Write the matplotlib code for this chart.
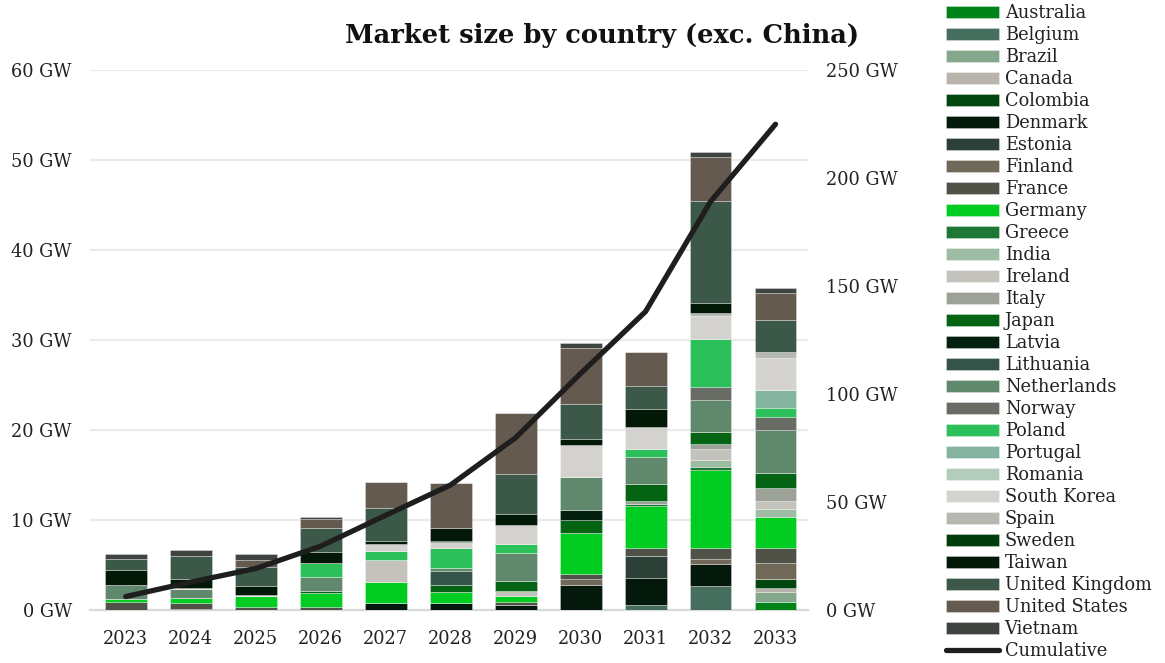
import numpy as np
import matplotlib
matplotlib.use("Agg")
import matplotlib.pyplot as plt
from matplotlib.lines import Line2D

years = ["2023", "2024", "2025", "2026", "2027", "2028", "2029", "2030", "2031", "2032", "2033"]

# GW per year, one list per country (stack order bottom -> top)
australia      = [0, 0, 0, 0, 0, 0, 0, 0, 0, 0, 0.85]
belgium        = [0, 0, 0, 0, 0, 0, 0, 0, 0.55, 2.67, 0]
brazil         = [0, 0, 0, 0, 0, 0, 0, 0, 0, 0, 1.11]
canada         = [0, 0, 0, 0, 0, 0, 0, 0, 0, 0, 0.48]
colombia       = [0, 0, 0, 0, 0, 0, 0, 0, 0, 0, 0.96]
denmark        = [0, 0.1, 0, 0, 0.8, 0.8, 0.6, 2.78, 3.04, 2.48, 0]
estonia        = [0, 0, 0, 0, 0, 0, 0, 0, 2.4, 0, 0]
finland        = [0, 0, 0, 0, 0, 0, 0, 0.67, 0, 0.48, 1.85]
france         = [0.92, 0.7, 0.37, 0.3, 0, 0, 0.3, 0.6, 0.93, 1.3, 1.67]
germany        = [0.26, 0.5, 1.15, 1.55, 2.3, 1.22, 0.63, 4.55, 4.6, 8.6, 3.44]
greece         = [0, 0, 0, 0, 0, 0, 0, 0, 0.22, 0.4, 0]
india          = [0, 0, 0, 0, 0, 0, 0, 0, 0, 0.74, 0.85]
ireland        = [0, 0, 0, 0, 2.45, 0, 0.63, 0, 0, 1.26, 0.89]
italy          = [0, 0, 0, 0, 0, 0, 0, 0, 0.37, 0.56, 1.41]
japan          = [0, 0.05, 0, 0.26, 0, 0.8, 1.07, 1.44, 1.93, 1.3, 1.7]
latvia         = [0, 0, 0, 0, 0, 0, 0, 1.07, 0, 0, 0]
lithuania      = [0, 0, 0, 0, 0, 1.5, 0, 0, 0, 0, 0]
netherlands    = [1.65, 1.0, 0, 1.6, 0, 0.37, 3.15, 3.7, 3.0, 3.52, 4.78]
norway         = [0, 0, 0, 0, 0, 0, 0, 0, 0, 1.52, 1.48]
poland         = [0, 0, 0, 1.55, 1.04, 2.2, 0.96, 0, 0.89, 5.33, 0.96]
portugal       = [0, 0, 0, 0, 0, 0, 0, 0, 0, 0, 2.0]
romania        = [0, 0, 0, 0, 0, 0, 0, 0, 0, 0, 0]
south_korea    = [0, 0.15, 0.2, 0, 0.78, 0.67, 2.15, 3.48, 2.44, 2.52, 3.6]
spain          = [0, 0, 0, 0, 0, 0, 0, 0, 0, 0.37, 0.59]
sweden         = [0, 0, 0, 0, 0, 0.15, 0, 0, 0, 0, 0]
taiwan         = [1.6, 1.0, 0.93, 1.2, 0.3, 1.4, 1.22, 0.74, 2.0, 1.11, 0]
united_kingdom = [1.2, 2.55, 2.15, 2.7, 3.7, 0, 4.37, 3.9, 2.52, 11.3, 3.63]
united_states  = [0, 0, 0.8, 1.0, 2.9, 4.95, 6.8, 6.15, 3.8, 4.9, 2.93]
vietnam        = [0.58, 0.67, 0.67, 0.2, 0, 0, 0, 0.63, 0, 0.55, 0.63]

countries = ["Australia", "Belgium", "Brazil", "Canada", "Colombia", "Denmark", "Estonia",
             "Finland", "France", "Germany", "Greece", "India", "Ireland", "Italy", "Japan",
             "Latvia", "Lithuania", "Netherlands", "Norway", "Poland", "Portugal", "Romania",
             "South Korea", "Spain", "Sweden", "Taiwan", "United Kingdom", "United States",
             "Vietnam"]
series = [australia, belgium, brazil, canada, colombia, denmark, estonia, finland, france,
          germany, greece, india, ireland, italy, japan, latvia, lithuania, netherlands,
          norway, poland, portugal, romania, south_korea, spain, sweden, taiwan,
          united_kingdom, united_states, vietnam]
colors = ["#00841A", "#466E5E", "#84A88C", "#B8B4AC", "#00460E", "#04180C", "#2C4038",
          "#706858", "#505248", "#00CC22", "#1C7834", "#9CBCA4", "#C4C2BC", "#9CA298",
          "#046414", "#04200E", "#34544A", "#60886C", "#686C64", "#2CC05A", "#84B4A0",
          "#B4CCBC", "#D4D2CE", "#B4B8B0", "#003C0C", "#041808", "#3C5848", "#645A50",
          "#404440"]

FONT = "DejaVu Serif"
plt.rcParams["font.family"] = FONT

W, H = 1165, 663
fig = plt.figure(figsize=(W / 100, H / 100), dpi=100)
ax = fig.add_axes([90 / W, 1 - 610 / H, (808 - 90) / W, (610 - 70) / H])

x = np.arange(len(years))
bottom = np.zeros(len(years))
handles = []
for name, vals, c in zip(countries, series, colors):
    v = np.array(vals, dtype=float)
    b = ax.bar(x, v, bottom=bottom, width=0.645, color=c, edgecolor=(1, 1, 1, 0.35),
               linewidth=0.6, label=name, zorder=3)
    handles.append(b)
    bottom = bottom + v

ax.set_xlim(-0.55, 10.5)
ax.set_ylim(0, 60)
ax.set_yticks(range(0, 61, 10))
ax.set_yticklabels([f"{t} GW" for t in range(0, 61, 10)])
ax.set_xticks(x)
ax.set_xticklabels(years)
ax.tick_params(axis="both", length=0, labelsize=12.8, colors="#222222")
ax.tick_params(axis="y", pad=13)
ax.tick_params(axis="x", pad=14.5)
ax.grid(axis="y", color="#EBEBEB", linewidth=1.6, zorder=0)
for s in ["top", "right", "left"]:
    ax.spines[s].set_visible(False)
ax.spines["bottom"].set_color("#D9D9D9")
ax.spines["bottom"].set_linewidth(1.6)

ax2 = ax.twinx()
cumulative = np.cumsum(bottom)
line, = ax2.plot(x, cumulative, color="#1E1E1E", linewidth=3.8, solid_capstyle="round",
                 label="Cumulative", zorder=5)
ax2.set_ylim(0, 250)
ax2.set_yticks(range(0, 251, 50))
ax2.set_yticklabels([f"{t} GW" for t in range(0, 251, 50)])
ax2.tick_params(axis="y", length=0, labelsize=12.8, colors="#222222", pad=13)
for s in ["top", "right", "left", "bottom"]:
    ax2.spines[s].set_visible(False)

fig.text(602 / W, 1 - 35 / H, "Market size by country (exc. China)", ha="center", va="center",
         fontsize=18.5, fontweight="bold", color="#111111")

leg_handles = handles + [Line2D([0], [0], color="#1E1E1E", linewidth=3.8, solid_capstyle="round")]
leg_labels = countries + ["Cumulative"]
fig.legend(leg_handles, leg_labels, loc="upper left", bbox_to_anchor=(946 / W, 1 - 4 / H),
           frameon=False, fontsize=12.8, handlelength=3.0, handleheight=0.7,
           handletextpad=0.3, labelspacing=0.225, borderpad=0, borderaxespad=0,
           labelcolor="#222222")

fig.savefig("out.png", dpi=100)
